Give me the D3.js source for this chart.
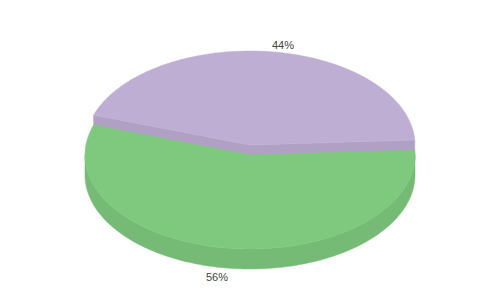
<!DOCTYPE html>
<html>
<head>
<meta charset="utf-8">
<script src="https://cdn.jsdelivr.net/npm/d3@7"></script>
<style>
  html, body { margin: 0; padding: 0; background: #fff; }
  svg { display: block; }
</style>
</head>
<body>
<div id="chart"></div>
<script>
// data
var categories = ["A", "B"];
var values = [44, 56];
var pulled = [true, false];

// size of the picture
var width = 500,
    height = 300;

// the pie: centre, radii of the ellipse, thickness
var cx = 250, cy = 155,
    rx = 165, ry = 94,
    depth = 20,
    pullY = 10;

var startDeg = -71.4;

var color = d3.scaleOrdinal()
    .domain(categories)
    .range(["#beaed4", "#7fc97f"]);

var svg = d3.select("#chart")
    .append("svg")
    .attr("width", width)
    .attr("height", height);

var pie = d3.pie()
    .sort(null)
    .value(function(d) { return d.value; })
    .startAngle(startDeg * Math.PI / 180)
    .endAngle(startDeg * Math.PI / 180 + 2 * Math.PI);

var data = categories.map(function(c, i) {
    return { key: c, value: values[i], pulled: pulled[i] };
});
var arcs = pie(data);

// d3 angle (clockwise from 12 o'clock) -> point on the ellipse
function pt(a, ox, oy, dz) {
    return [ox + rx * Math.sin(a), oy - ry * Math.cos(a) + (dz || 0)];
}

function arcPoints(a0, a1, ox, oy, dz) {
    var n = Math.max(2, Math.ceil(Math.abs(a1 - a0) / 0.02));
    var pts = [];
    for (var i = 0; i <= n; i++) {
        pts.push(pt(a0 + (a1 - a0) * i / n, ox, oy, dz));
    }
    return pts;
}

var line = d3.line();

arcs.forEach(function(d) {
    d.mid = (d.startAngle + d.endAngle) / 2;
    d.ox = cx;
    d.oy = d.data.pulled ? cy - pullY : cy;
});

// back slices first
var order = arcs.slice().sort(function(a, b) {
    return (-Math.cos(a.mid)) - (-Math.cos(b.mid));
});

order.forEach(function(d) {
    var g = svg.append("g");
    var top = color(d.data.key);
    var side = d3.color(top).darker(0.22).toString();

    // outer wall, only the front half
    var lo = Math.PI / 2, hi = 3 * Math.PI / 2;
    [-2 * Math.PI, 0, 2 * Math.PI].forEach(function(shift) {
        var s = Math.max(d.startAngle, lo + shift);
        var e = Math.min(d.endAngle, hi + shift);
        if (e > s) {
            var up = arcPoints(s, e, d.ox, d.oy, 0);
            var down = arcPoints(e, s, d.ox, d.oy, depth);
            g.append("path")
                .attr("d", line(up.concat(down)) + "Z")
                .attr("fill", side)
                .attr("stroke", side)
                .attr("stroke-width", 0.5);
        }
    });

    // cut walls
    var walls = [];
    if (Math.sin(d.startAngle) < 0) walls.push(d.startAngle);
    if (Math.sin(d.endAngle) > 0) walls.push(d.endAngle);
    walls.forEach(function(a) {
        var p = pt(a, d.ox, d.oy, 0);
        var pts = [[d.ox, d.oy], p, [p[0], p[1] + depth], [d.ox, d.oy + depth]];
        g.append("path")
            .attr("d", line(pts) + "Z")
            .attr("fill", side)
            .attr("stroke", side)
            .attr("stroke-width", 0.5);
    });

    // top face
    var face = [[d.ox, d.oy]].concat(arcPoints(d.startAngle, d.endAngle, d.ox, d.oy, 0));
    g.append("path")
        .attr("d", line(face) + "Z")
        .attr("fill", top)
        .attr("stroke", top)
        .attr("stroke-width", 0.5);
});

// labels
var total = d3.sum(values);
var lrx = 243, lry = 100;
svg.selectAll("text.lbl")
    .data(arcs)
    .enter()
    .append("text")
    .attr("class", "lbl")
    .attr("x", function(d) { return d.ox + lrx * Math.sin(d.mid); })
    .attr("y", function(d) {
        var y = d.oy - lry * Math.cos(d.mid);
        return Math.cos(d.mid) < 0 ? y + depth + 4 : y;
    })
    .attr("text-anchor", "middle")
    .attr("dominant-baseline", "middle")
    .style("font-family", "'Liberation Sans', Arial, sans-serif")
    .style("font-size", "11px")
    .style("fill", "#444")
    .text(function(d) { return Math.round(d.value / total * 100) + "%"; });
</script>
</body>
</html>
